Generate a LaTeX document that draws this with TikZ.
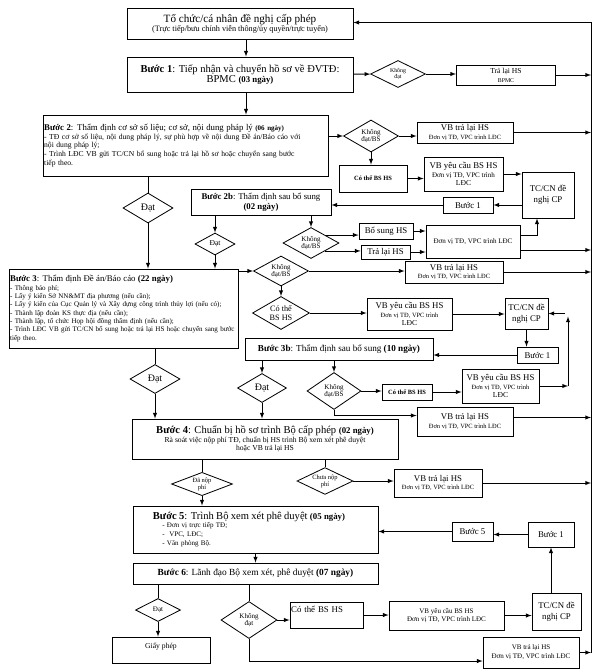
\documentclass[tikz,border=0pt]{standalone}
\usepackage{fontspec}
\setmainfont{Liberation Serif}
\usetikzlibrary{shapes.geometric}
\def\px{0.03cm}
\newcommand\fsz[2]{\fontsize{#1}{#2}\selectfont}
\tikzset{
	bx/.style 2 args={draw,minimum width=#1*\px,minimum height=#2*\px,inner sep=1pt,align=center,font=\fsz{6.5}{7.5}},
	dm/.style 2 args={draw,diamond,aspect=1.8,minimum width=#1*\px,minimum height=#2*\px,inner sep=0pt,align=center,font=\fsz{6}{6.5}}
}
\begin{document}
\begin{tikzpicture}[>=latex,line width=0.7pt,x=\px,y=-\px]
			\useasboundingbox (0,0) rectangle (602,672);
			\coordinate (rtop) at (591,22.5);
			\coordinate (rbot) at (591,652.5);
			\coordinate (j3) at (568,386);
			% buoc 1
			\node[bx={226}{31}] (org) at (240,23.5) {{\fsz{9.5}{11}Tổ chức/cá nhân đề nghị cấp phép}\\{\fsz{7}{8}(Trực tiếp/bưu chính viễn thông/ủy quyền/trực tuyến)}};
			\node[bx={226}{35}] (b1) at (240,74.5) {{\fsz{9}{11}\textbf{Bước 1}: Tiếp nhận và chuyển hồ sơ về ĐVTĐ:}\\{\fsz{9}{11}BPMC \textbf{\fsz{7.5}{9}(03 ngày)}}};
			\node[dm={55}{27},font=\fsz{5}{5.5}] (d1) at (398,74) {Không\\đạt};
			\node[bx={99}{20}] (ret1) at (506,75) {{\fsz{6.5}{7.5}Trả lại HS}\\{\fsz{5}{5.5}BPMC}};
			% buoc 2
			\node[bx={285}{61},text width=8.48cm,align=left,font=\fsz{6.5}{7.4}] (b2) at (185.5,145.5) {{\fsz{7.5}{9}\textbf{Bước 2}: Thẩm định cơ sở số liệu; cơ sở, nội dung pháp lý \textbf{\fsz{6}{7}(06 ngày)}}\\
				- TĐ cơ sở số liệu, nội dung pháp lý, sự phù hợp về nội dung Đề án/Báo cáo với\\nội dung pháp lý;\\- Trình LĐC VB gửi TC/CN bổ sung hoặc trả lại hồ sơ hoặc chuyển sang bước\\tiếp theo.};
			\node[dm={55}{32}] (d2) at (371,136) {Không\\đạt/BS};
			\node[bx={96}{21}] (vb2) at (465,132.5) {{\fsz{7.5}{8}VB trả lại HS}\\\fsz{5.5}{6.5}Đơn vị TĐ, VPC trình LĐC};
			\node[bx={68}{27}] (cb2) at (373,178.5) {\textbf{\fsz{5.5}{6}Có thể BS HS}};
			\node[bx={79}{34}] (yc2) at (463.5,174) {{\fsz{7.5}{8.5}VB yêu cầu BS HS}\\\fsz{6}{6.8}Đơn vị TĐ, VPC trình\\LĐC};
			\node[bx={52}{46},font=\fsz{7.5}{9}] (tc2) at (548,195) {TC/CN đề\\nghị CP};
			\node[bx={50}{16},font=\fsz{7.5}{8}] (s1a) at (468,205) {Bước 1};
			\node[bx={140}{26},font=\fsz{7.5}{8.5}] (b2b) at (261,202) {\textbf{Bước 2b}: Thẩm định sau bổ sung\\\textbf{(02 ngày)}};
			\node[dm={50}{30},font=\fsz{8.5}{9}] (ok2) at (148,208) {Đạt};
			\node[dm={40}{22},font=\fsz{6.5}{7}] (ok2b) at (215,244) {Đạt};
			\node[dm={56}{31}] (d2b) at (311,243) {Không\\đạt/BS};
			\node[bx={54}{16},font=\fsz{7.5}{8}] (add2b) at (386,231) {Bổ sung HS};
			\node[bx={49}{14},font=\fsz{7.5}{8}] (ret2b) at (385.5,252) {Trả lại HS};
			\node[bx={94}{33},font=\fsz{6}{7}] (dv2b) at (473,241.5) {Đơn vị TĐ, VPC trình LĐC};
			% buoc 3
			\node[bx={229}{79},text width=6.80cm,align=left,font=\fsz{6}{7.1}] (b3) at (123.5,308.5) {{\fsz{7.5}{9}\textbf{Bước 3}: Thẩm định Đề án/Báo cáo \textbf{(22 ngày)}}\\
				- Thông báo phí;\\- Lấy ý kiến Sở NN\&MT địa phương (nếu cần);\\- Lấy ý kiến của Cục Quản lý và Xây dựng công trình thủy lợi (nếu có);\\- Thành lập đoàn KS thực địa (nếu cần);\\- Thành lập, tổ chức Họp hội đồng thẩm định (nếu cần);\\- Trình LĐC VB gửi TC/CN bổ sung hoặc trả lại HS hoặc chuyển sang bước\\tiếp theo.};
			\node[dm={55}{30}] (d3) at (281,271) {Không\\đạt/BS};
			\node[bx={98}{22}] (vb3) at (454,272) {{\fsz{7.5}{8}VB trả lại HS}\\\fsz{5.5}{6.5}Đơn vị TĐ, VPC trình LĐC};
			\node[dm={57}{33},font=\fsz{7}{7.5}] (cd3) at (281,313) {Có thể\\BS HS};
			\node[bx={85}{32}] (yc3) at (409.5,314) {{\fsz{7.5}{8.5}VB yêu cầu BS HS}\\\fsz{5.5}{6.3}Đơn vị TĐ, VPC trình\\LĐC};
			\node[bx={43}{31},font=\fsz{7.5}{9}] (tc3) at (526.5,313.5) {TC/CN đề\\nghị CP};
			\node[bx={41}{16},font=\fsz{7.5}{8}] (s1b) at (537.5,355) {Bước 1};
			\node[bx={188}{22},font=\fsz{7.8}{9}] (b3b) at (339,349) {\textbf{Bước 3b}: Thẩm định sau bổ sung \textbf{(10 ngày)}};
			\node[dm={50}{29},font=\fsz{8.5}{9}] (ok3) at (155,379) {Đạt};
			\node[dm={49}{29},font=\fsz{8.5}{9}] (ok3b) at (262,388) {Đạt};
			\node[dm={54}{37}] (d3b) at (334,391) {Không\\đạt/BS};
			\node[bx={50}{16}] (cb3b) at (407,392) {\textbf{\fsz{5.5}{6}Có thể BS HS}};
			\node[bx={77}{34}] (yc3b) at (500.5,386) {{\fsz{7.5}{8.5}VB yêu cầu BS HS}\\\fsz{5.5}{6.3}Đơn vị TĐ, VPC trình\\LĐC};
			\node[bx={96}{29}] (vb3b) at (465,421.5) {{\fsz{7.5}{8.5}VB trả lại HS}\\\fsz{5.5}{6.5}Đơn vị TĐ, VPC trình LĐC};
			% buoc 4, 5, 6
			\node[bx={266}{40}] (b4) at (265,439) {{\fsz{9}{10.5}\textbf{Bước 4}: Chuẩn bị hồ sơ trình Bộ cấp phép \textbf{\fsz{7.5}{9}(02 ngày)}}\\\fsz{6.5}{7.5}Rà soát việc nộp phí TĐ, chuẩn bị HS trình Bộ xem xét phê duyệt\\hoặc VB trả lại HS};
			\node[dm={61}{22},font=\fsz{5.5}{6}] (paid) at (202,484) {Đã nộp\\phí};
			\node[dm={56}{25},font=\fsz{5.5}{6}] (unpaid) at (325,481) {Chưa nộp\\phí};
			\node[bx={88}{28}] (vb4) at (438,483) {{\fsz{7.5}{8.5}VB trả lại HS}\\\fsz{5.5}{6.5}Đơn vị TĐ, VPC trình LĐC};
			\node[bx={245}{47},text width=7.28cm,align=left,font=\fsz{6}{7.6}] (b5) at (255.5,529.5) {\hspace*{16pt}{\fsz{9}{10.5}\textbf{Bước 5}: Trình Bộ xem xét phê duyệt \textbf{\fsz{7.5}{9}(05 ngày)}}\\
				\hspace*{24pt}- Đơn vị trực tiếp TĐ;\\\hspace*{24pt}- \ VPC, LĐC;\\\hspace*{24pt}- Văn phòng Bộ.};
			\node[bx={41}{19},font=\fsz{7.5}{8}] (s5) at (472.5,531.5) {Bước 5};
			\node[bx={46}{25},font=\fsz{7.5}{8}] (s1c) at (551,534.5) {Bước 1};
			\node[bx={245}{21},font=\fsz{8}{9}] (b6) at (255.5,573.5) {\textbf{Bước 6}: Lãnh đạo Bộ xem xét, phê duyệt \textbf{(07 ngày)}};
			\node[dm={45}{23}] (ok6) at (158,610) {Đạt};
			\node[bx={98}{26},font=\fsz{6.5}{8}] (permit) at (161,650) {Giấy phép\\~};
			\node[dm={56}{37}] (d6) at (249,620) {Không\\đạt};
			\node[bx={73}{26},text width=2.12cm,align=left,font=\fsz{7.5}{9}] (cb6) at (326.5,615) {Có thể BS HS\\~};
			\node[bx={115}{29},font=\fsz{6}{7.5}] (yc6) at (446.5,615.5) {VB yêu cầu BS HS\\Đơn vị TĐ, VPC trình LĐC};
			\node[bx={49}{37},font=\fsz{7.5}{9}] (tc6) at (556.5,611.5) {TC/CN đề\\nghị CP};
			\node[bx={96}{31},font=\fsz{6}{7.5}] (vb6) at (531,652.5) {VB trả lại HS\\Đơn vị TĐ, VPC trình LĐC};
			% connectors
			\draw[->] ([xshift=6*\px]org.south) -- ([xshift=6*\px]b1.north);
			\draw[->] (b1) -- (d1);
			\draw[->] (d1) -- (d1 -| ret1.west);
			\draw[->] (ret1.east) -- (ret1.east -| rtop);
			\draw[->] ([xshift=6*\px]b1.south) -- ([xshift=6*\px]b1.south |- b2.north);
			\draw[->] (d2.west -| b2.east) -- (d2);
			\draw[->] (d2.east) -- (d2.east -| vb2.west);
			\draw[->] (vb2.east) -- (vb2.east -| rtop);
			\draw[->] (d2.south) -- (d2.south |- cb2.north);
			\draw[->] (cb2.east) -- (cb2.east -| yc2.west);
			\draw[->] (yc2.east) -- (yc2.east -| tc2.west);
			\draw[->] (tc2.west |- s1a) -- (s1a);
			\draw[->] (s1a) -- (s1a -| b2b.east);
			\draw (b2.south -| ok2) -- (ok2);
			\draw[->] (ok2) -- (ok2 |- b3.north);
			\draw[->] (b2b.south -| ok2b) -- (ok2b);
			\draw[->] (ok2b) -- (ok2b |- b3.north);
			\draw[->] (b2b.south -| d2b) -- (d2b);
			\draw[->] (d2b.north east) -- (d2b.north east -| add2b.west);
			\draw[->] (d2b.south east) -- (d2b.south east -| ret2b.west);
			\draw[->] (add2b) -- (add2b -| dv2b.west);
			\draw[->] (ret2b) -- (ret2b -| dv2b.west);
			\draw[->] (dv2b.east |- 0,235) -| ([xshift=-11*\px]tc2.south);
			\draw[->] (dv2b.east |- 0,250) -- (rtop |- 0,250);
			\draw[->] (d3.west -| b3.east) -- (d3);
			\draw[->] (d3) -- (d3 -| vb3.west);
			\draw[->] (vb3.east) -- (vb3.east -| rtop);
			\draw[->] (d3) -- (cd3);
			\draw[->] (cd3) -- (cd3 -| yc3.west);
			\draw[->] (yc3) -- (yc3 -| tc3.west);
			\draw[->] (tc3) -- (tc3 |- s1b.north);
			\draw[->] (s1b) -- (s1b -| b3b.east);
			\draw[->] (yc3b) -- (yc3b -| j3);
			\draw[->] (yc3b -| j3) -- ([yshift=-3*\px]j3 |- tc3);
			\draw[->] ([xshift=-3*\px]j3 |- tc3) -- (tc3);
			\draw (b3.south -| ok3) -- (ok3);
			\draw[->] (ok3) -- (ok3 |- b4.north);
			\draw[->] (b3b.south -| ok3b) -- (ok3b);
			\draw[->] (ok3b) -- (ok3b |- b4.north);
			\draw[->] (b3b.south -| d3b) -- (d3b);
			\draw[->] (d3b) -- (d3b -| cb3b.west);
			\draw[->] (cb3b) -- (cb3b -| yc3b.west);
			\draw[->] (d3b.south) |- ([yshift=6*\px]vb3b.west);
			\draw[->] ([yshift=4*\px]vb3b.east) -- ([yshift=4*\px]vb3b.east -| rtop);
			\draw (b4.south -| paid) -- (paid);
			\draw[->] (paid) -- (paid |- b5.north);
			\draw (b4.south -| unpaid) -- (unpaid);
			\draw[->] (unpaid) -- (unpaid -| vb4.west);
			\draw[->] (vb4.east) -- (vb4.east -| rtop);
			\draw[->] (s1c) -- (s1c -| s5.east);
			\draw[->] (s5) -- (s5 -| b5.east);
			\draw[->] (b5) -- (b6);
			\draw (b6.south -| ok6) -- (ok6);
			\draw[->] (ok6) -- (ok6 |- permit.north);
			\draw (b6.south -| d6) -- (d6);
			\draw[->] (d6) -- (d6 -| cb6.west);
			\draw[->] (cb6) -- (cb6 -| yc6.west);
			\draw[->] (yc6) -- (yc6 -| tc6.west);
			\draw[->] (tc6.north -| s1c) -- (s1c);
			\draw[->] (d6.south) |- ([yshift=-8.5*\px]vb6.west);
			\draw[->] (vb6.east) -- (vb6.east -| rtop);
			\draw[->] (rbot) -- (rtop) -- (org.east |- rtop);
	\end{tikzpicture}
\end{document}
